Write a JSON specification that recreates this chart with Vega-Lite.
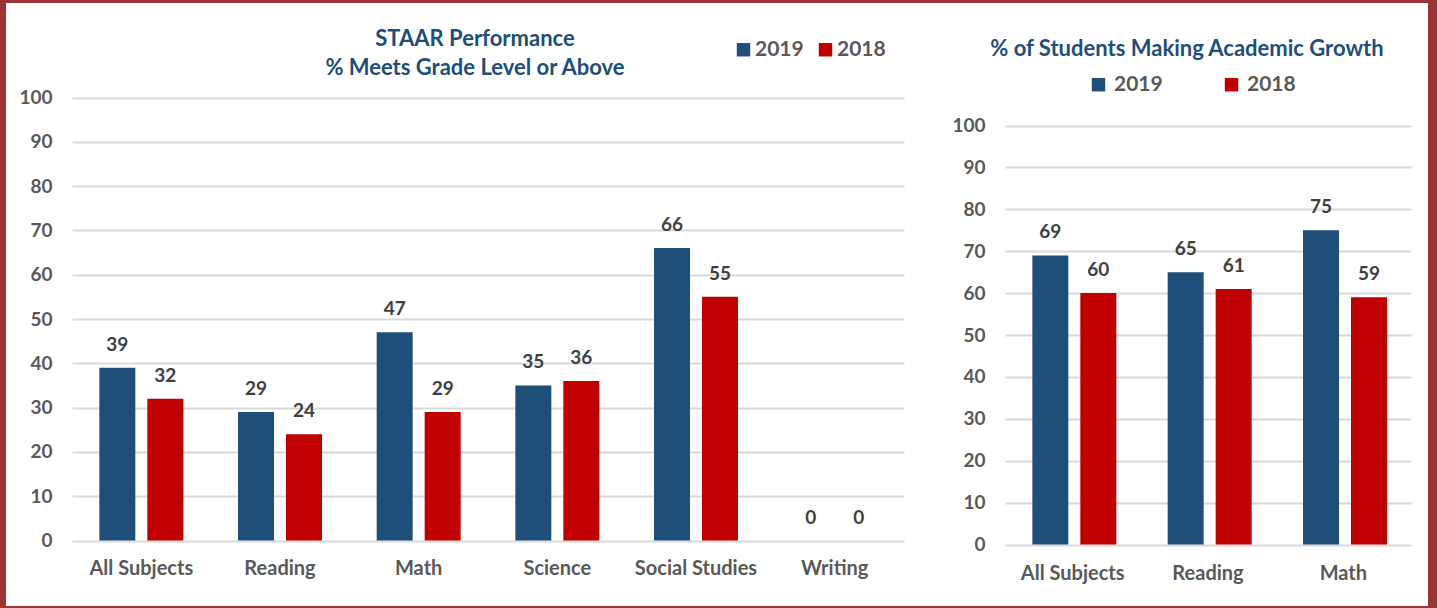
{
  "$schema": "https://vega.github.io/schema/vega-lite/v6.json",
  "background": "#9B3434",
  "padding": {"left": 6, "top": 3, "right": 9, "bottom": 2},
  "spacing": 0,
  "bounds": "flush",
  "config": {
    "view": {"fill": "white", "stroke": null},
    "font": "Lato",
    "axis": {
      "title": null,
      "domain": false,
      "ticks": false,
      "labelFont": "Lato",
      "labelFontWeight": "bold",
      "labelColor": "#595959",
      "gridColor": "#D9D9D9",
      "gridWidth": 2
    },
    "axisX": {"labelAngle": 0, "labelPadding": 0, "labelBaseline": "top", "grid": false, "labelFontSize": 20},
    "axisY": {"labelPadding": 0, "grid": true, "labelFontSize": 19},
    "legend": {
      "title": null,
      "orient": "none",
      "direction": "horizontal",
      "symbolType": "square",
      "symbolSize": 180,
      "symbolStrokeWidth": 0,
      "labelFont": "Lato",
      "labelFontSize": 21,
      "labelFontWeight": "bold",
      "labelColor": "#595959",
      "padding": 0
    },
    "title": {"font": "Lato", "fontSize": 22, "fontWeight": "bold", "color": "#1F4E79", "anchor": "middle"}
  },
  "datasets": {
    "staar": [
      {"subject": "All Subjects", "year": "2019", "value": 39},
      {"subject": "All Subjects", "year": "2018", "value": 32},
      {"subject": "Reading", "year": "2019", "value": 29},
      {"subject": "Reading", "year": "2018", "value": 24},
      {"subject": "Math", "year": "2019", "value": 47},
      {"subject": "Math", "year": "2018", "value": 29},
      {"subject": "Science", "year": "2019", "value": 35},
      {"subject": "Science", "year": "2018", "value": 36},
      {"subject": "Social Studies", "year": "2019", "value": 66},
      {"subject": "Social Studies", "year": "2018", "value": 55},
      {"subject": "Writing", "year": "2019", "value": 0},
      {"subject": "Writing", "year": "2018", "value": 0}
    ],
    "growth": [
      {"subject": "All Subjects", "year": "2019", "value": 69},
      {"subject": "All Subjects", "year": "2018", "value": 60},
      {"subject": "Reading", "year": "2019", "value": 65},
      {"subject": "Reading", "year": "2018", "value": 61},
      {"subject": "Math", "year": "2019", "value": 75},
      {"subject": "Math", "year": "2018", "value": 59}
    ]
  },
  "hconcat": [
    {
      "width": 932,
      "height": 603,
      "data": {"name": "staar"},
      "title": {"text": ["STAAR Performance", "% Meets Grade Level or Above"], "offset": -77, "lineHeight": 29, "dx": 3},
      "encoding": {
        "x": {
          "field": "subject", "type": "nominal",
          "sort": ["All Subjects", "Reading", "Math", "Science", "Social Studies", "Writing"],
          "scale": {"range": [66, 898], "paddingInner": 0, "paddingOuter": 0},
          "axis": {"offset": -48}
        },
        "xOffset": {
          "field": "year", "type": "nominal", "sort": ["2019", "2018"],
          "scale": {"paddingInner": 0.25, "paddingOuter": 0.57}
        },
        "y": {
          "field": "value", "type": "quantitative",
          "scale": {"domain": [0, 100], "range": [537.5, 94.5], "nice": false},
          "axis": {"offset": -46, "values": [0, 10, 20, 30, 40, 50, 60, 70, 80, 90, 100]}
        }
      },
      "layer": [
        {
          "mark": {"type": "bar"},
          "encoding": {
            "color": {
              "field": "year", "type": "nominal",
              "scale": {"domain": ["2019", "2018"], "range": ["#1F4E79", "#C00000"]},
              "legend": {"legendX": 727, "legendY": 36, "columnPadding": 11, "labelOffset": 1}
            }
          }
        },
        {
          "mark": {"type": "text", "baseline": "alphabetic", "dy": -17, "font": "Lato", "fontSize": 19, "fontWeight": "bold", "color": "#404040"},
          "encoding": {"text": {"field": "value", "type": "quantitative"}}
        }
      ]
    },
    {
      "width": 490,
      "height": 603,
      "data": {"name": "growth"},
      "title": {"text": "% of Students Making Academic Growth", "offset": -58, "dx": 4},
      "encoding": {
        "x": {
          "field": "subject", "type": "nominal",
          "sort": ["All Subjects", "Reading", "Math"],
          "scale": {"range": [67, 473], "paddingInner": 0, "paddingOuter": 0},
          "axis": {"offset": -43}
        },
        "xOffset": {
          "field": "year", "type": "nominal", "sort": ["2019", "2018"],
          "scale": {"paddingInner": 0.25, "paddingOuter": 0.56}
        },
        "y": {
          "field": "value", "type": "quantitative",
          "scale": {"domain": [0, 100], "range": [541.5, 122.5], "nice": false},
          "axis": {"offset": -47, "values": [0, 10, 20, 30, 40, 50, 60, 70, 80, 90, 100]}
        }
      },
      "layer": [
        {
          "mark": {"type": "bar"},
          "encoding": {
            "color": {
              "field": "year", "type": "nominal",
              "scale": {"domain": ["2019", "2018"], "range": ["#1F4E79", "#C00000"]},
              "legend": {"legendX": 150, "legendY": 71, "columnPadding": 58, "labelOffset": 5}
            }
          }
        },
        {
          "mark": {"type": "text", "baseline": "alphabetic", "dy": -17, "font": "Lato", "fontSize": 19, "fontWeight": "bold", "color": "#404040"},
          "encoding": {"text": {"field": "value", "type": "quantitative"}}
        }
      ]
    }
  ],
  "resolve": {"scale": {"color": "independent"}, "legend": {"color": "independent"}}
}
